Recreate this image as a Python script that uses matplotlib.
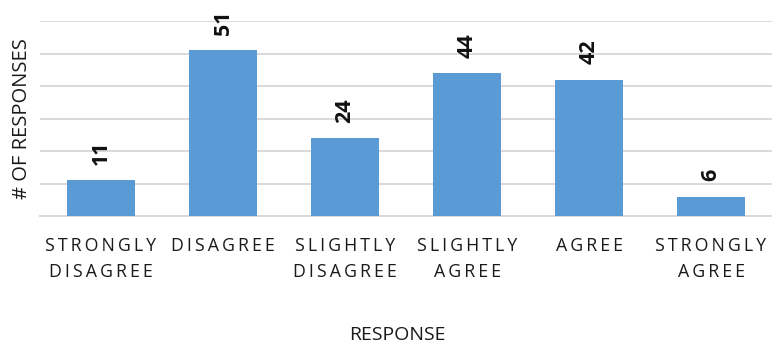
import matplotlib
matplotlib.use("Agg")
import matplotlib.pyplot as plt

categories = ["STRONGLY\nDISAGREE", "DISAGREE", "SLIGHTLY\nDISAGREE", "SLIGHTLY\nAGREE", "AGREE", "STRONGLY\nAGREE"]
values = [11, 51, 24, 44, 42, 6]

plt.rcParams['font.family'] = ['Open Sans', 'DejaVu Sans']

def spaced(s):
    return "\n".join("\u2009".join(line) for line in s.split("\n"))

fig = plt.figure(figsize=(7.72, 3.49), dpi=100)
ax = fig.add_axes([40/772, 133/349, 732/772, (216-21)/349])
x = list(range(len(categories)))
bars = ax.bar(x, values, width=0.56, color="#5B9BD5", zorder=3)
ax.set_xlim(-0.5, len(categories) - 0.5)
ax.set_ylim(0, 60)
ax.set_yticks([0, 10, 20, 30, 40, 50, 60])
ax.set_yticklabels([])
ax.yaxis.grid(True, color="#D9D9D9", linewidth=1.4, zorder=0)
ax.tick_params(axis='both', length=0)
for s in ["top", "right", "left"]:
    ax.spines[s].set_visible(False)
ax.spines["bottom"].set_color("#D9D9D9")
ax.spines["bottom"].set_linewidth(1.4)
ax.set_xticks(x)
ax.set_xticklabels([spaced(c) for c in categories], fontsize=12.8, color="#1a1a1a", linespacing=1.55)
ax.tick_params(axis='x', pad=15)
for xi, v in zip(x, values):
    ax.annotate(str(v), (xi, v), xytext=(0, 11), textcoords="offset points",
                rotation=90, ha="center", va="bottom", fontsize=15.5, fontweight="bold", color="#111111")
ax.set_ylabel("# OF RESPONSES", fontsize=14.5, color="#1a1a1a", labelpad=2)
fig.text(397/772, 1 - 335/349, "RESPONSE", ha="center", va="center", fontsize=14, color="#1a1a1a")
fig.savefig("out.png", dpi=100)
